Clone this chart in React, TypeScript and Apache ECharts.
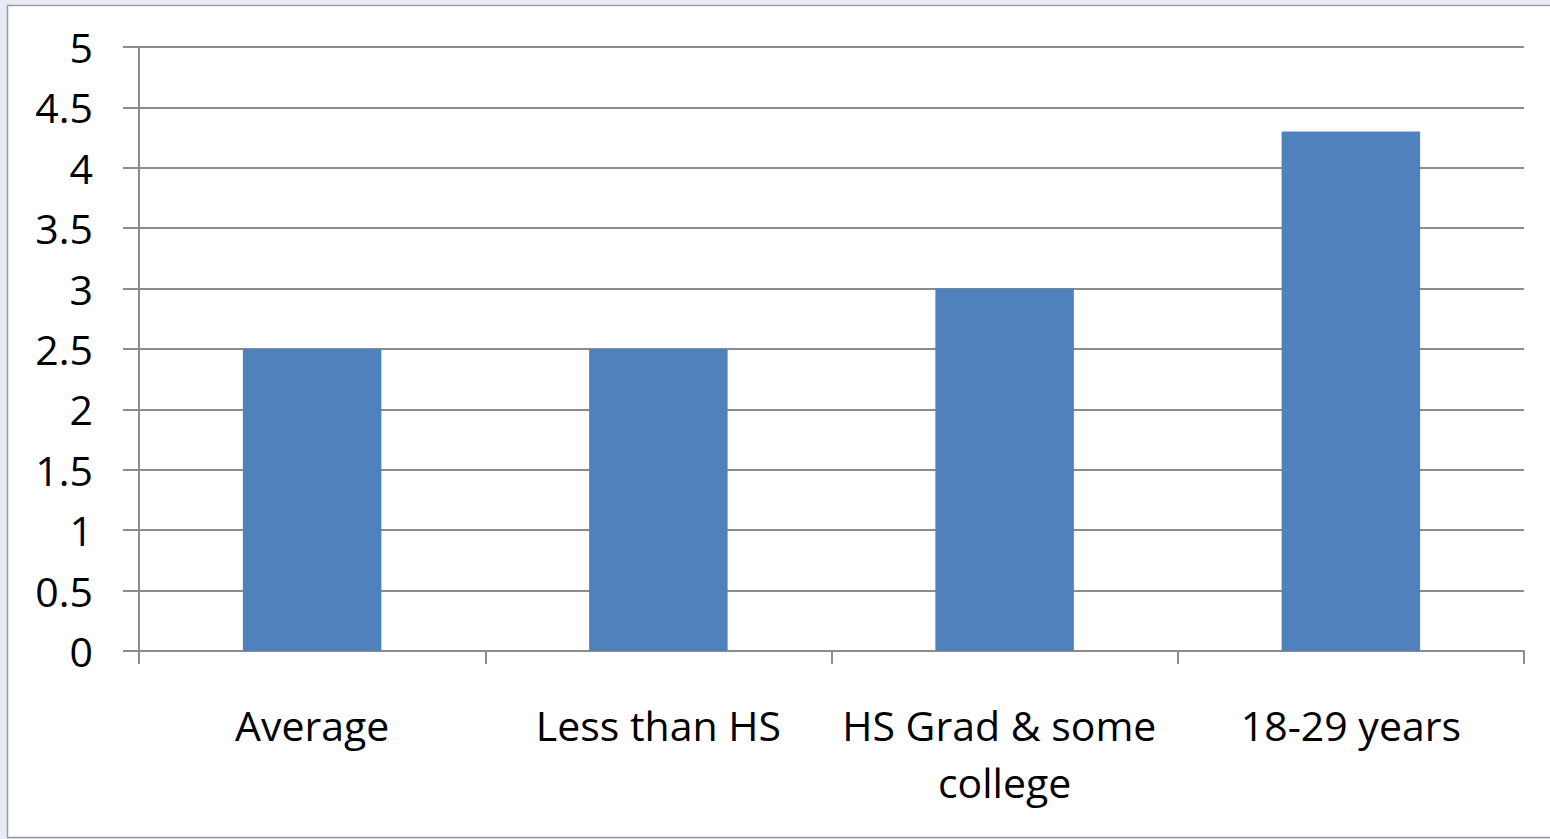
import React, { useEffect, useRef } from "react";
import * as echarts from "echarts";

const categories = ["Average", "Less than HS", "HS Grad & some college", "18-29 years"];
const values = [2.5, 2.5, 3.0, 4.3];
const yTicks = { min: 0, max: 5, interval: 0.5 };

const FONT = "'Open Sans', 'Noto Sans', sans-serif";

export default function App() {
  const ref = useRef<HTMLDivElement>(null);

  useEffect(() => {
    if (!ref.current) return;
    const chart = echarts.init(ref.current, null, { renderer: "svg" });
    chart.setOption({
      animation: false,
      backgroundColor: "#E6EBF5",
      graphic: [
        {
          type: "rect",
          z: -10,
          silent: true,
          shape: { x: 7.5, y: 5.5, width: 1560, height: 832 },
          style: { fill: "#ffffff", stroke: "#9a9a9a", lineWidth: 1.5 },
        },
      ],
      grid: { left: 139, right: 26, top: 47, bottom: 188, containLabel: false },
      xAxis: {
        type: "category",
        data: categories,
        boundaryGap: true,
        axisLine: { lineStyle: { color: "#8c8c8c", width: 2 } },
        axisTick: { show: true, length: 13, lineStyle: { color: "#8c8c8c", width: 2 } },
        axisLabel: {
          interval: 0,
          margin: 45,
          color: "#000",
          fontSize: 41,
          fontFamily: FONT,
          lineHeight: 57,
          width: 340,
          overflow: "break",
        },
      },
      yAxis: {
        type: "value",
        min: yTicks.min,
        max: yTicks.max,
        interval: yTicks.interval,
        axisLine: { show: true, lineStyle: { color: "#8c8c8c", width: 2 } },
        axisTick: { show: true, length: 16, lineStyle: { color: "#8c8c8c", width: 2 } },
        splitLine: { show: true, lineStyle: { color: "#8c8c8c", width: 2 } },
        axisLabel: { margin: 46, color: "#000", fontSize: 41, fontFamily: FONT },
      },
      series: [
        {
          type: "bar",
          data: values,
          barWidth: "40%",
          itemStyle: { color: "#4F81BD" },
        },
      ],
    });
    return () => chart.dispose();
  }, []);

  return (
    <div
      ref={ref}
      style={{ position: "fixed", left: 0, top: 0, width: 1550, height: 839 }}
    />
  );
}
